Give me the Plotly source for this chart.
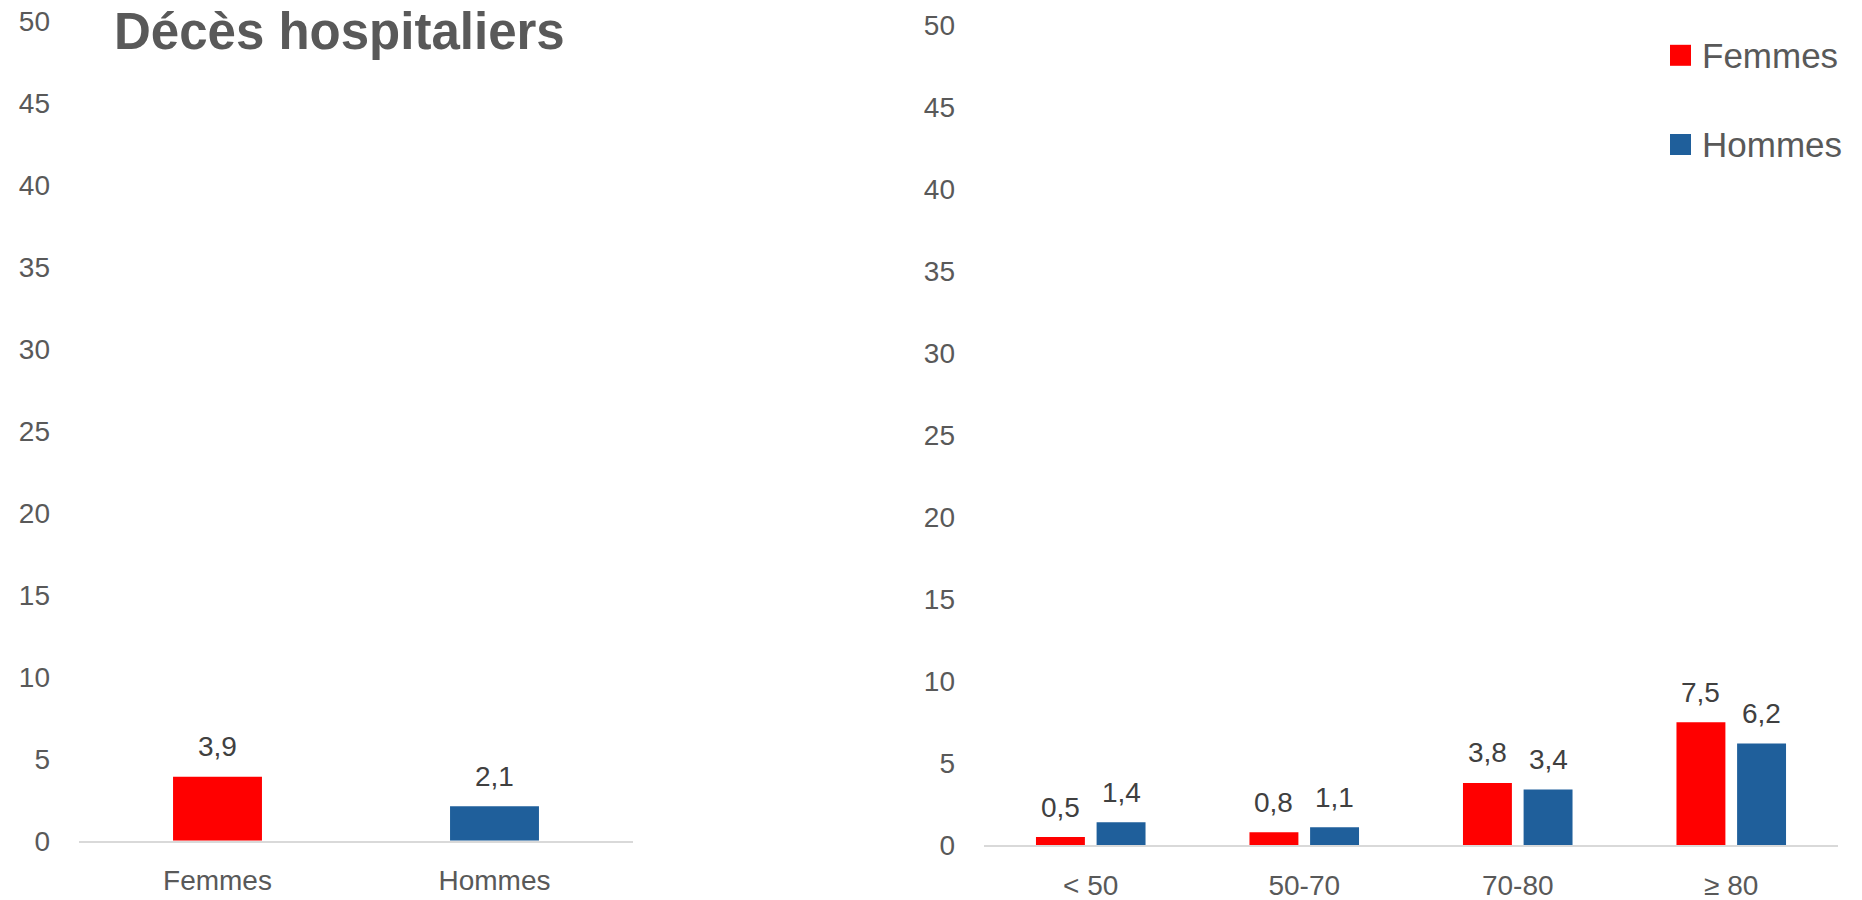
import plotly.graph_objects as go

# Hospital deaths by sex, overall and by age band
sexes = ["Femmes", "Hommes"]
overall_values = [3.9, 2.1]

age_bands = ["< 50", "50-70", "70-80", "≥ 80"]
femmes_values = [0.5, 0.8, 3.8, 7.5]
hommes_values = [1.4, 1.1, 3.4, 6.2]

y_ticks = [0, 5, 10, 15, 20, 25, 30, 35, 40, 45, 50]

title_text = "Décès hospitaliers"

RED = "#FF0000"
BLUE = "#1F5F9B"
TICK_GREY = "#595959"
LABEL_GREY = "#404040"
AXIS_GREY = "#D9D9D9"
FONT = "Liberation Sans, Arial, sans-serif"

W, H = 1862, 900


def px_x(p):
    return p / W


def px_y(p):
    return 1 - p / H


def fmt(v):
    return f"{v:.1f}".replace(".", ",")


fig = go.Figure()

# Left panel: one bar per sex
fig.add_trace(go.Bar(
    x=sexes, y=overall_values, width=0.321,
    marker=dict(color=[RED, BLUE], line=dict(width=0)),
    xaxis="x", yaxis="y", showlegend=False, hoverinfo="x+y",
))

# Right panel: grouped bars per age band
fig.add_trace(go.Bar(
    x=age_bands, y=femmes_values, name="Femmes",
    marker=dict(color=RED, line=dict(width=0)),
    xaxis="x2", yaxis="y2", showlegend=False,
))
fig.add_trace(go.Bar(
    x=age_bands, y=hommes_values, name="Hommes",
    marker=dict(color=BLUE, line=dict(width=0)),
    xaxis="x2", yaxis="y2", showlegend=False,
))

annotations = []
label_font = dict(family=FONT, size=28, color=LABEL_GREY)

for cat, v in zip(sexes, overall_values):
    annotations.append(dict(
        x=cat, y=v, xref="x", yref="y", text=fmt(v), showarrow=False,
        yanchor="middle", yshift=30, font=label_font,
    ))

slot_half = 30.4
for values, shift in ((femmes_values, -slot_half), (hommes_values, slot_half)):
    for cat, v in zip(age_bands, values):
        annotations.append(dict(
            x=cat, y=v, xref="x2", yref="y2", text=fmt(v), showarrow=False,
            yanchor="middle", yshift=30, xshift=shift, font=label_font,
        ))

# Title
annotations.append(dict(
    x=px_x(112), y=px_y(31), xref="paper", yref="paper",
    xanchor="left", yanchor="middle", showarrow=False,
    text=f"<b>{title_text}</b>",
    font=dict(family=FONT, size=51, color=TICK_GREY),
))

# Legend drawn as squares with labels
shapes = []
legend_items = [("Femmes", RED, 55.3), ("Hommes", BLUE, 144.5)]
for name, color, yc in legend_items:
    shapes.append(dict(
        type="rect", xref="paper", yref="paper",
        x0=px_x(1670), x1=px_x(1691), y0=px_y(yc + 10.5), y1=px_y(yc - 10.5),
        fillcolor=color, line=dict(width=0),
    ))
    annotations.append(dict(
        x=px_x(1700), y=px_y(yc), xref="paper", yref="paper",
        xanchor="left", yanchor="middle", showarrow=False, text=name,
        font=dict(family=FONT, size=35, color=TICK_GREY),
    ))

tick_font = dict(family=FONT, size=28, color=TICK_GREY)

xaxis_common = dict(
    showline=True, linecolor=AXIS_GREY, linewidth=2, showgrid=False,
    zeroline=False, ticks="", tickfont=tick_font, ticklabelstandoff=14,
    fixedrange=True, automargin=False,
)
yaxis_common = dict(
    range=[0, 50], tickvals=y_ticks, showgrid=False, zeroline=False,
    showline=False, ticks="", tickfont=tick_font, ticklabelstandoff=28,
    fixedrange=True, automargin=False,
)

fig.update_layout(
    width=W, height=H, autosize=False,
    margin=dict(l=0, r=0, t=0, b=0),
    paper_bgcolor="white", plot_bgcolor="white",
    barmode="group", bargap=0.432, bargroupgap=0.193,
    separators=", ",
    font=dict(family=FONT, color=TICK_GREY),
    xaxis=dict(domain=[px_x(79), px_x(633)], anchor="y", **xaxis_common),
    yaxis=dict(domain=[px_y(840.7), px_y(20.7)], anchor="x", **yaxis_common),
    xaxis2=dict(domain=[px_x(984), px_x(1838)], anchor="y2", **xaxis_common),
    yaxis2=dict(domain=[px_y(845.3), px_y(25.3)], anchor="x2", **yaxis_common),
    annotations=annotations,
    shapes=shapes,
    showlegend=False,
)

fig.write_html("out.html")
